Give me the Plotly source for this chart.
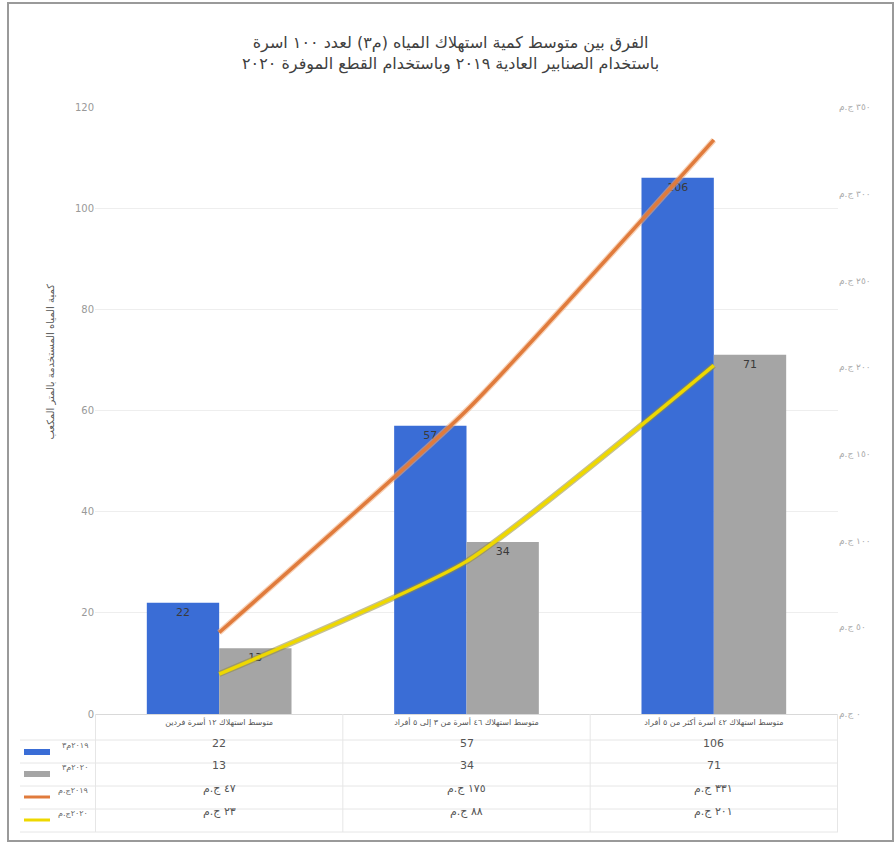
import plotly.graph_objects as go

# ---------------- data ----------------
categories = [
    "متوسط استهلاك ١٢ أسرة فردين",
    "متوسط استهلاك ٤٦ أسرة من ٣ إلى ٥ أفراد",
    "متوسط استهلاك ٤٢ أسرة أكثر من ٥ أفراد",
]
series_names = ["٢٠١٩م٣", "٢٠٢٠م٣", "٢٠١٩ج.م", "٢٠٢٠ج.م"]
water_2019 = [22, 57, 106]
water_2020 = [13, 34, 71]
cost_2019 = [47, 175, 331]
cost_2020 = [23, 88, 201]
left_ticks = [0, 20, 40, 60, 80, 100, 120]
right_ticks = [0, 50, 100, 150, 200, 250, 300, 350]

title_lines = [
    "الفرق بين متوسط كمية استهلاك المياه (م٣) لعدد ١٠٠ اسرة",
    "باستخدام الصنابير العادية ٢٠١٩ وباستخدام القطع الموفرة ٢٠٢٠",
]
y_title = "كمية المياه المستخدمة بالمتر المكعب"

AR_DIGITS = str.maketrans("0123456789", "٠١٢٣٤٥٦٧٨٩")


def ar(n):
    return str(n).translate(AR_DIGITS)


def money(n):
    return ar(n) + " ج.م"


BLUE = "#3a6dd6"
GRAY = "#a5a5a5"
ORANGE = "#e07b3c"
YELLOW = "#eed800"
FONT = "DejaVu Sans, Liberation Sans, sans-serif"

fig = go.Figure()
fig.add_trace(go.Bar(
    x=categories, y=water_2019, name=series_names[0],
    marker=dict(color=BLUE, line=dict(width=0)),
    text=[str(v) for v in water_2019], textposition="inside",
    insidetextanchor="end", textfont=dict(color="#3a3a3a", size=11),
))
fig.add_trace(go.Bar(
    x=categories, y=water_2020, name=series_names[1],
    marker=dict(color=GRAY, line=dict(width=0)),
    text=[str(v) for v in water_2020], textposition="inside",
    insidetextanchor="end", textfont=dict(color="#3a3a3a", size=11),
))
# glow lines behind
for vals, glow in [(cost_2019, "rgba(240,170,120,0.55)"), (cost_2020, "rgba(150,140,60,0.55)")]:
    fig.add_trace(go.Scatter(
        x=categories, y=vals, yaxis="y2", mode="lines", showlegend=False,
        hoverinfo="skip", line=dict(color=glow, width=6, shape="spline", smoothing=0.5),
    ))
fig.add_trace(go.Scatter(
    x=categories, y=cost_2019, yaxis="y2", mode="lines", name=series_names[2],
    line=dict(color=ORANGE, width=3.5, shape="spline", smoothing=0.5),
))
fig.add_trace(go.Scatter(
    x=categories, y=cost_2020, yaxis="y2", mode="lines", name=series_names[3],
    line=dict(color=YELLOW, width=3.5, shape="spline", smoothing=0.5),
))

# --------------- table below chart ---------------
PLOT_L, PLOT_R, PLOT_T, PLOT_B = 95, 838, 107, 714
W_PX = PLOT_R - PLOT_L
H_PX = PLOT_B - PLOT_T


def px_y(y):
    return (PLOT_B - y) / H_PX


def px_x(x):
    return (x - PLOT_L) / W_PX


row_centers = [752, 774, 797, 820]
row_lines = [740, 763, 786, 809, 832]
rows = [
    [str(v) for v in water_2019],
    [str(v) for v in water_2020],
    [money(v) for v in cost_2019],
    [money(v) for v in cost_2020],
]
annotations = []
shapes = []
for ri, row in enumerate(rows):
    for ci, txt in enumerate(row):
        annotations.append(dict(
            x=categories[ci], xref="x", y=px_y(row_centers[ri]), yref="paper",
            text=txt, showarrow=False, font=dict(size=11, color="#555", family=FONT),
        ))
    annotations.append(dict(
        x=px_x(90), xref="paper", y=px_y(row_centers[ri]), yref="paper",
        xanchor="right", text=series_names[ri], showarrow=False,
        font=dict(size=8, color="#666", family=FONT),
    ))
swatch = [("rect", BLUE), ("rect", GRAY), ("line", ORANGE), ("line", YELLOW)]
for ri, (kind, col) in enumerate(swatch):
    yc = px_y(row_centers[ri])
    if kind == "rect":
        shapes.append(dict(type="rect", xref="paper", yref="paper",
                           x0=px_x(24), x1=px_x(50), y0=yc - 3 / H_PX, y1=yc + 3 / H_PX,
                           fillcolor=col, line=dict(width=0)))
    else:
        shapes.append(dict(type="line", xref="paper", yref="paper",
                           x0=px_x(24), x1=px_x(50), y0=yc, y1=yc,
                           line=dict(color=col, width=3)))
for yl in row_lines:
    shapes.append(dict(type="line", xref="paper", yref="paper",
                       x0=px_x(20), x1=1, y0=px_y(yl), y1=px_y(yl),
                       line=dict(color="#e6e6e6", width=1)))
for xb in [-0.5, 0.5, 1.5, 2.5]:
    shapes.append(dict(type="line", xref="x", yref="paper",
                       x0=xb, x1=xb, y0=0, y1=px_y(row_lines[-1]),
                       line=dict(color="#e6e6e6", width=1)))
# outer frame
shapes.append(dict(type="rect", xref="paper", yref="paper",
                   x0=px_x(8), x1=px_x(893), y0=px_y(841), y1=px_y(3),
                   line=dict(color="#9a9a9a", width=2), fillcolor="rgba(0,0,0,0)",
                   layer="below"))

annotations.append(dict(
    x=px_x(450), xref="paper", y=px_y(54), yref="paper", showarrow=False,
    text="<br>".join(title_lines), font=dict(size=16, color="#404040", family=FONT),
    align="center", yanchor="middle",
))
annotations.append(dict(
    x=px_x(42), xref="paper", y=px_y(362), yref="paper", showarrow=False,
    text=y_title, textangle=-90, font=dict(size=10, color="#555", family=FONT),
))

fig.update_layout(
    width=895, height=845,
    margin=dict(l=PLOT_L, r=895 - PLOT_R, t=PLOT_T, b=845 - PLOT_B),
    paper_bgcolor="white", plot_bgcolor="white",
    barmode="group", bargap=0.415, bargroupgap=0,
    showlegend=False,
    font=dict(family=FONT, color="#666"),
    xaxis=dict(showgrid=False, showline=True, linecolor="#d9d9d9",
               tickfont=dict(size=8, color="#555", family=FONT), ticks=""),
    yaxis=dict(range=[0, 120], tickvals=left_ticks, showgrid=True,
               gridcolor="#eeeeee", zeroline=False,
               tickfont=dict(size=10, color="#999")),
    yaxis2=dict(range=[0, 350], overlaying="y", side="right",
                tickvals=right_ticks, ticktext=[money(v) for v in right_ticks],
                showgrid=False, zeroline=False,
                tickfont=dict(size=9, color="#aaa", family=FONT)),
    annotations=annotations, shapes=shapes,
)

fig.write_html("out.html")
